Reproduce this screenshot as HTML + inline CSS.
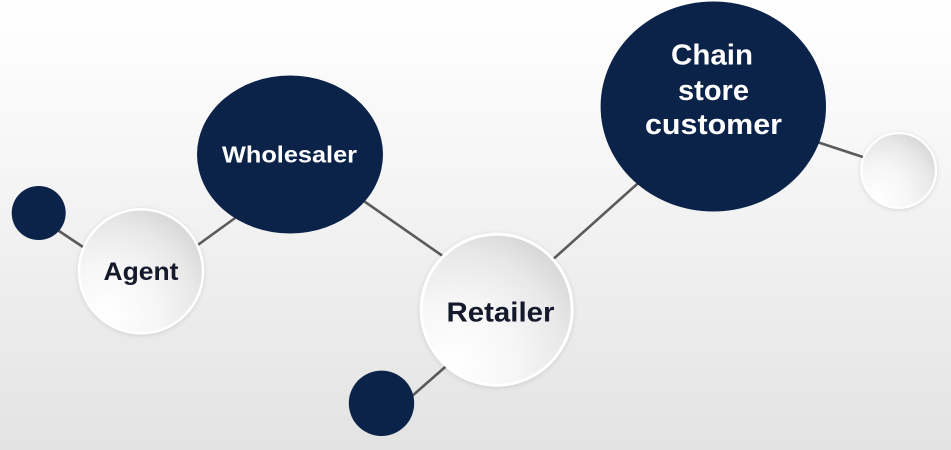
<!DOCTYPE html>
<html>
<head>
<meta charset="utf-8">
<style>
  html, body { margin: 0; padding: 0; }
  body { width: 951px; height: 450px; overflow: hidden; }
  svg { display: block; }
  text { font-family: "Liberation Sans", "DejaVu Sans", sans-serif; font-weight: bold; }
</style>
</head>
<body>
<svg width="951" height="450" viewBox="0 0 951 450" xmlns="http://www.w3.org/2000/svg">
  <defs>
    <linearGradient id="bg" x1="0" y1="0" x2="0" y2="1">
      <stop offset="0" stop-color="#ffffff"/>
      <stop offset="0.35" stop-color="#f6f6f6"/>
      <stop offset="1" stop-color="#e3e3e3"/>
    </linearGradient>
    <radialGradient id="lite" cx="0.22" cy="0.85" r="1.05" fx="0.22" fy="0.85">
      <stop offset="0" stop-color="#ffffff"/>
      <stop offset="0.4" stop-color="#f6f6f6"/>
      <stop offset="0.7" stop-color="#e8e8e8"/>
      <stop offset="1" stop-color="#cfcfcf"/>
    </radialGradient>
    <filter id="sh" x="-20%" y="-20%" width="140%" height="140%">
      <feDropShadow dx="0" dy="1" stdDeviation="2.5" flood-color="#000" flood-opacity="0.12"/>
    </filter>
  </defs>

  <rect x="0" y="0" width="951" height="450" fill="url(#bg)"/>

  <!-- connectors -->
  <g stroke="#5a5a5a" stroke-width="2.6" stroke-linecap="butt">
    <line x1="50" y1="225" x2="92" y2="253"/>
    <line x1="195" y1="247" x2="242" y2="213"/>
    <line x1="358" y1="197" x2="447" y2="259"/>
    <line x1="550" y1="262" x2="645" y2="177"/>
    <line x1="403" y1="404" x2="452" y2="361"/>
    <line x1="808" y1="139" x2="872" y2="160"/>
  </g>

  <!-- dark nodes -->
  <circle cx="38.7" cy="213" r="27" fill="#0c2349"/>
  <circle cx="381.5" cy="403.3" r="32.7" fill="#0c2349"/>
  <ellipse cx="290" cy="154.5" rx="93" ry="79" fill="#0c2349"/>
  <ellipse cx="713.3" cy="106.5" rx="112.7" ry="105" fill="#0c2349"/>

  <!-- light nodes -->
  <g filter="url(#sh)">
    <circle cx="141" cy="271.3" r="62" fill="url(#lite)" stroke="#ffffff" stroke-width="2.5"/>
    <circle cx="496.7" cy="309.7" r="75.5" fill="url(#lite)" stroke="#ffffff" stroke-width="3"/>
    <circle cx="898.7" cy="170.5" r="37.3" fill="url(#lite)" stroke="#ffffff" stroke-width="2.2"/>
  </g>

  <!-- labels -->
  <text x="222" y="162.5" font-size="23.5" fill="#ffffff" textLength="135" lengthAdjust="spacingAndGlyphs">Wholesaler</text>
  <text x="103.5" y="280" font-size="25" fill="#141a2c" textLength="75" lengthAdjust="spacingAndGlyphs">Agent</text>
  <text x="446.5" y="321.7" font-size="28" fill="#141a2c" textLength="108" lengthAdjust="spacingAndGlyphs">Retailer</text>
  <text x="671" y="64.5" font-size="29" fill="#ffffff" textLength="82" lengthAdjust="spacingAndGlyphs">Chain</text>
  <text x="678" y="100" font-size="29" fill="#ffffff" textLength="71" lengthAdjust="spacingAndGlyphs">store</text>
  <text x="645" y="134" font-size="29" fill="#ffffff" textLength="137" lengthAdjust="spacingAndGlyphs">customer</text>
</svg>
</body>
</html>
